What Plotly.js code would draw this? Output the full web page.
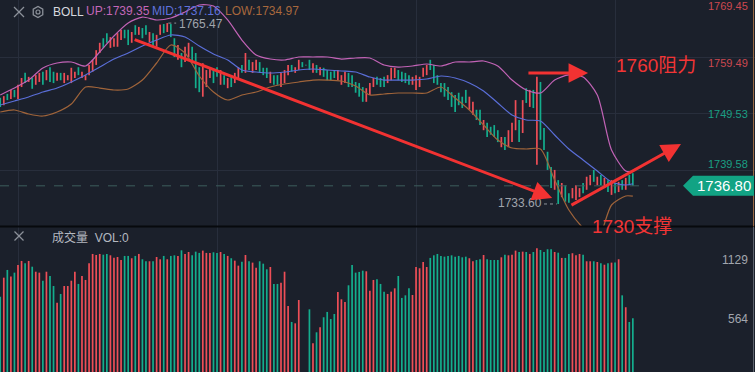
<!DOCTYPE html>
<html><head><meta charset="utf-8">
<script src="https://cdn.plot.ly/plotly-3.0.1.min.js"></script>
<style>html,body{margin:0;padding:0;background:#1b202b;}#chart{width:755px;height:372px;}</style>
</head><body><div id="chart"></div>
<script>
// ---------- DATA ----------
const openP = [1752.3,1751.0,1753.0,1752.1,1753.7,1752.1,1754.2,1756.7,1755.1,1755.8,
1754.6,1755.1,1756.9,1755.4,1757.7,1756.9,1755.3,1756.7,1754.9,1755.4,
1754.9,1755.8,1757.7,1755.8,1755.4,1756.3,1756.9,1758.1,1760.2,1762.8,
1763.7,1761.1,1761.3,1761.3,1762.5,1764.3,1764.3,1762.0,1765.1,1763.4,
1764.6,1765.1,1762.1,1763.7,1761.3,1763.4,1765.3,1763.9,1765.3,1762.8,
1759.0,1760.2,1758.6,1759.5,1761.3,1760.2,1757.7,1752.5,1754.2,1755.8,
1757.2,1757.7,1754.6,1756.3,1754.0,1756.0,1754.9,1755.8,1758.1,1756.7,
1759.0,1756.7,1757.2,1758.6,1757.6,1757.6,1754.9,1756.3,1756.3,1754.2,
1754.9,1756.3,1758.1,1756.7,1757.2,1758.6,1758.1,1759.0,1756.7,1758.1,
1756.3,1757.6,1757.2,1756.9,1757.2,1755.4,1754.6,1754.9,1756.7,1756.3,
1755.1,1754.9,1754.2,1751.6,1752.8,1754.2,1756.0,1755.8,1756.0,1754.9,
1755.4,1755.8,1757.2,1756.9,1756.7,1756.3,1754.6,1753.7,1754.2,1756.0,
1756.3,1759.0,1758.1,1756.3,1754.9,1754.9,1754.2,1753.3,1752.8,1753.2,
1752.5,1753.7,1750.2,1749.3,1750.2,1750.2,1746.6,1747.9,1747.2,1747.5,
1746.6,1743.6,1745.4,1743.6,1744.5,1746.6,1748.4,1746.1,1754.0,1750.7,
1753.7,1740.5,1755.1,1747.0,1742.8,1740.1,1736.1,1737.8,1734.8,1736.9,
1735.5,1734.6,1734.3,1734.8,1737.3,1736.1,1736.9,1739.6,1736.9,1738.7,
1736.4,1737.8,1735.2,1737.3,1735.7,1737.8,1736.1,1738.7,1739.0];
const closeP = [1750.7,1752.6,1751.9,1753.7,1752.4,1754.6,1755.8,1754.9,1756.0,1753.9,
1756.3,1756.7,1754.6,1757.2,1755.1,1754.9,1756.7,1755.4,1756.7,1756.3,
1757.6,1756.9,1756.3,1756.9,1756.3,1758.1,1759.0,1760.7,1762.0,1761.1,
1762.0,1763.0,1762.8,1763.7,1764.3,1762.8,1761.6,1763.9,1763.4,1764.8,
1762.8,1763.4,1763.9,1761.3,1763.4,1765.2,1763.7,1765.47,1763.0,1759.5,
1761.6,1757.7,1761.3,1762.0,1758.4,1754.0,1753.3,1758.4,1757.2,1757.7,
1754.9,1756.0,1757.2,1754.6,1755.8,1754.2,1756.7,1757.7,1756.7,1760.2,
1757.2,1758.6,1759.0,1756.7,1756.3,1755.8,1756.9,1754.6,1754.6,1756.7,
1757.2,1758.1,1756.9,1757.7,1759.0,1757.7,1758.0,1757.2,1758.4,1756.7,
1757.7,1756.0,1755.4,1755.4,1755.8,1757.2,1756.3,1756.9,1754.2,1754.2,
1753.2,1752.5,1751.6,1754.0,1754.9,1755.8,1754.6,1754.2,1754.2,1756.3,
1757.6,1757.6,1755.4,1755.1,1754.9,1754.6,1756.0,1756.3,1756.0,1757.6,
1758.1,1757.2,1754.9,1754.6,1753.3,1752.5,1751.9,1750.7,1749.8,1751.0,
1750.5,1751.4,1752.5,1751.6,1748.4,1747.5,1748.4,1745.4,1745.8,1745.4,
1744.5,1745.4,1743.1,1746.6,1747.9,1751.9,1744.5,1751.9,1751.4,1753.7,
1750.5,1756.0,1744.9,1743.1,1739.6,1736.4,1739.6,1733.6,1737.3,1734.0,
1733.8,1736.4,1736.9,1736.4,1735.5,1738.4,1738.7,1737.5,1738.4,1736.9,
1738.2,1735.7,1737.8,1735.5,1737.5,1736.1,1738.2,1736.9,1736.8];
const volume = [835,1017,1091,1027,1065,1139,1177,1155,1177,1122,
1074,1065,988,1074,1033,937,778,861,937,937,
988,1074,957,1033,995,1155,1244,1234,1244,1237,
1244,1231,1208,1215,1186,1225,1225,1203,1225,1244,
1193,1174,1174,1174,1215,1193,1225,1193,1225,1231,
1225,1279,1244,1263,1231,1266,1254,1276,1254,1254,
1260,1254,1263,1244,1225,1203,1180,1132,1170,1234,
1174,1161,1113,1174,1151,1097,1119,957,957,969,
1074,746,593,580,803,0,0,714,389,494,
542,638,689,621,669,880,810,784,944,1139,
1065,1072,1084,1078,892,995,1002,957,883,861,
883,915,1033,823,848,915,851,1119,1107,1167,
1119,1206,1231,1244,1225,1218,1225,1231,1218,1225,
1212,1218,1203,1174,1186,1193,1234,1193,1186,1186,
1186,1212,1237,1231,1237,1276,1263,1266,1263,1244,
1263,1299,1282,1263,1289,1289,1263,1256,1206,1206,
1244,1251,1231,1244,1237,1174,1174,1174,1167,1155,
1141,1155,1161,1161,1193,848,734,593,628];
const bandIdx = [0,4,8,12,16,20,24,28,32,36,40,44,48,52,56,60,64,68,72,76,80,84,88,92,96,100,
104,108,112,116,120,124,128,132,136,140,144,148,152,156,160,164,168,172,176,178];
const bollUp = [1752.80,1754.03,1755.44,1757.56,1758.44,1758.62,1757.91,1760.38,1763.20,1765.49,
1766.54,1766.02,1766.37,1767.43,1768.66,1768.48,1766.02,1762.49,1759.85,1759.14,
1758.97,1759.50,1759.50,1759.50,1759.14,1759.32,1759.32,1758.09,1757.73,1757.91,
1758.26,1757.91,1758.62,1758.62,1758.79,1757.91,1755.44,1753.68,1753.15,1755.44,
1756.33,1755.97,1752.80,1743.11,1739.41,1739.35];
const bollMid = [1751.04,1751.74,1752.45,1753.33,1754.03,1755.09,1756.33,1757.73,1759.14,1760.20,
1761.43,1762.49,1763.37,1763.02,1761.43,1760.03,1758.97,1757.21,1756.85,1756.68,
1756.85,1757.21,1757.38,1757.21,1757.03,1756.85,1755.97,1755.44,1755.44,1755.44,
1755.62,1756.15,1755.80,1754.92,1753.51,1751.39,1749.28,1748.40,1748.22,1745.75,
1743.29,1741.35,1739.41,1737.47,1736.94,1737.16];
const bollLow = [1749.81,1750.16,1749.45,1749.10,1749.81,1751.22,1754.21,1754.03,1753.68,1753.86,
1755.44,1758.44,1761.61,1760.20,1756.15,1753.33,1751.92,1752.80,1753.33,1754.21,
1754.74,1755.09,1755.44,1755.44,1755.27,1754.39,1752.80,1752.98,1753.15,1753.15,
1753.15,1754.21,1752.27,1750.16,1747.52,1744.87,1743.46,1743.29,1743.29,1737.82,
1732.54,1729.37,1727.25,1733.42,1735.01,1734.97];
const priceTicks = [1769.45,1759.49,1749.53,1739.58,1729.62];
const priceTickText = ['1769.45','1759.49','1749.53','1739.58','1729.62'];
const volTicks = [1129,564];
const timeGrid = [5,61,117,173];
const lastPrice = 1736.80;
const peakHigh = {idx:47, value:1765.47};
const troughLow = {idx:157, value:1733.60};
// annotation arrows: [tailIdx, tailPrice, tipIdx, tipPrice]
const arrows = [[37.4,1762.67,155.3,1734.65],[148.2,1756.68,165.4,1756.68],[160.3,1733.24,191.55,1744.17]];

// ---------- DRAW ----------
const W=755,H=372;
const PX=x=>x/W, PY=y=>1-y/H;
const RED='#ee4e57', GREEN='#14ad8d';
const idx = openP.map((_,i)=>i);
const up = idx.map(i=>closeP[i]>=openP[i]);
const col = up.map(u=>u?RED:GREEN);
const base = idx.map(i=>Math.min(openP[i],closeP[i]));
const span = idx.map(i=>Math.max(Math.abs(closeP[i]-openP[i]),0.12));

const traces = [
 {type:'bar',x:idx,y:span,base:base,width:0.48,marker:{color:col,line:{width:0}},xaxis:'x',yaxis:'y',hoverinfo:'skip'},
 {type:'scatter',mode:'lines',x:bandIdx,y:bollUp,line:{color:'#c263b6',width:1.2,shape:'spline',smoothing:0.7},xaxis:'x',yaxis:'y',hoverinfo:'skip'},
 {type:'scatter',mode:'lines',x:bandIdx,y:bollMid,line:{color:'#5a6ed8',width:1.2,shape:'spline',smoothing:0.7},xaxis:'x',yaxis:'y',hoverinfo:'skip'},
 {type:'scatter',mode:'lines',x:bandIdx,y:bollLow,line:{color:'#a0643a',width:1.2,shape:'spline',smoothing:0.7},xaxis:'x',yaxis:'y',hoverinfo:'skip'},
 {type:'bar',x:idx,y:volume,width:0.48,marker:{color:col,line:{width:0}},xaxis:'x2',yaxis:'y2',hoverinfo:'skip'}
];

const grid='#282e3c';
const xr=[-0.065,212.37];
const font="'Liberation Sans', Arial, 'Noto Sans CJK SC', sans-serif";
const shapes=[];
const ann=[];

// separator & borders
shapes.push({type:'line',xref:'paper',yref:'paper',x0:0,x1:1,y0:PY(226.5),y1:PY(226.5),line:{color:'#07090d',width:2}});
shapes.push({type:'line',xref:'paper',yref:'paper',x0:PX(753.5),x1:PX(753.5),y0:PY(226.5),y1:1,line:{color:'#9a6a45',width:1}});
shapes.push({type:'line',xref:'paper',yref:'paper',x0:PX(753.5),x1:PX(753.5),y0:0,y1:PY(227),line:{color:'#5d636d',width:1}});
// last price dashed line
shapes.push({type:'line',xref:'paper',yref:'y',x0:0,x1:PX(683),y0:lastPrice,y1:lastPrice,line:{color:'#3d5d5c',width:1,dash:'dash'}});
// last price tag
const dy = 10*0.1762;
shapes.push({type:'path',xref:'paper',yref:'y',fillcolor:'#12a384',line:{width:0},
 path:`M ${PX(683)},${lastPrice} L ${PX(693)},${lastPrice+dy} L ${PX(754)},${lastPrice+dy} L ${PX(754)},${lastPrice-dy} L ${PX(693)},${lastPrice-dy} Z`});
ann.push({xref:'paper',yref:'y',x:PX(723.5),y:lastPrice,text:lastPrice.toFixed(2),showarrow:false,xanchor:'center',yanchor:'middle',font:{family:font,size:15,color:'#ffffff'}});

// price tick labels
const yShifts=[-5.5,-6,-0.5,6,6.6];
priceTicks.forEach((v,k)=>{
 ann.push({xref:'paper',yref:'y',x:PX(750),y:v,yshift:yShifts[k],text:priceTickText[k],showarrow:false,xanchor:'right',yanchor:'middle',
  font:{family:font,size:11,color:k<2?'#cc4850':'#1a9f84'}});
});
// volume tick labels
volTicks.forEach(v=>{
 ann.push({xref:'paper',yref:'y2',x:PX(750),y:v,yshift:6,text:String(v),showarrow:false,xanchor:'right',yanchor:'middle',font:{family:font,size:12,color:'#a2a6ae'}});
});

// header icons
function cross(cx,cy,r,c){
 shapes.push({type:'line',xref:'paper',yref:'paper',x0:PX(cx-r),x1:PX(cx+r),y0:PY(cy-r),y1:PY(cy+r),line:{color:c,width:1.3}});
 shapes.push({type:'line',xref:'paper',yref:'paper',x0:PX(cx-r),x1:PX(cx+r),y0:PY(cy+r),y1:PY(cy-r),line:{color:c,width:1.3}});
}
cross(19,12,5,'#8c919a');
cross(19,236,4.5,'#8c919a');
let hp='';
for(let k=0;k<6;k++){const a=Math.PI/6+k*Math.PI/3;hp+=(k?'L ':'M ')+PX(38+5.5*Math.cos(a))+','+PY(12+5.5*Math.sin(a))+' ';}
shapes.push({type:'path',xref:'paper',yref:'paper',path:hp+'Z',line:{color:'#8c919a',width:1.3}});
shapes.push({type:'circle',xref:'paper',yref:'paper',x0:PX(36),x1:PX(40),y0:PY(14),y1:PY(10),line:{color:'#8c919a',width:1.2}});

const hdr=(x,y,t,c)=>ann.push({xref:'paper',yref:'paper',x:PX(x),y:PY(y),text:t,showarrow:false,xanchor:'left',yanchor:'middle',font:{family:font,size:12,color:c}});
hdr(51,12,'BOLL','#d6d9df');
hdr(84,11.5,'UP:1739.35','#c467b9');
hdr(150,11.5,'MID:1737.16','#5f72dc');
hdr(223,11.5,'LOW:1734.97','#a8683d');
hdr(50,237,'成交量  VOL:0','#b4b8c0');

// high / low markers
shapes.push({type:'line',xref:'x',yref:'y',x0:peakHigh.idx+0.3,x1:peakHigh.idx+2.5,y0:peakHigh.value,y1:peakHigh.value,line:{color:'#8f949c',width:1,dash:'dot'}});
ann.push({xref:'x',yref:'y',x:peakHigh.idx+2.6,y:peakHigh.value,text:peakHigh.value.toFixed(2),showarrow:false,xanchor:'left',yanchor:'middle',yshift:-0.5,font:{family:font,size:12,color:'#a0a5ad'}});
shapes.push({type:'line',xref:'x',yref:'y',x0:troughLow.idx-4,x1:troughLow.idx-0.4,y0:troughLow.value,y1:troughLow.value,line:{color:'#8f949c',width:1,dash:'dot'}});
ann.push({xref:'x',yref:'y',x:troughLow.idx-4.1,y:troughLow.value,text:troughLow.value.toFixed(2),showarrow:false,xanchor:'right',yanchor:'middle',yshift:1,font:{family:font,size:12,color:'#a0a5ad'}});

// red arrows
arrows.forEach(a=>{
 ann.push({xref:'x',yref:'y',axref:'x',ayref:'y',x:a[2],y:a[3],ax:a[0],ay:a[1],text:'',showarrow:true,arrowhead:2,arrowsize:1.3,arrowwidth:3,arrowcolor:'#f23232',standoff:0});
});
// red texts
ann.push({xref:'paper',yref:'paper',x:PX(656),y:PY(65),text:'1760阻力',showarrow:false,xanchor:'center',yanchor:'middle',font:{family:font,size:19,color:'#f23535'}});
ann.push({xref:'paper',yref:'paper',x:PX(632),y:PY(226),text:'1730支撑',showarrow:false,xanchor:'center',yanchor:'middle',font:{family:font,size:19,color:'#f23535'}});

const layout={
 width:W,height:H,margin:{l:0,r:0,t:0,b:0},paper_bgcolor:'#1b202b',plot_bgcolor:'#1b202b',
 showlegend:false,barmode:'overlay',dragmode:false,
 xaxis:{domain:[0,1],range:xr,anchor:'y',tickvals:timeGrid,showticklabels:false,showgrid:true,gridcolor:grid,gridwidth:1,zeroline:false,showline:false,ticks:''},
 xaxis2:{domain:[0,1],range:xr,anchor:'y2',tickvals:timeGrid,showticklabels:false,showgrid:true,gridcolor:grid,gridwidth:1,zeroline:false,showline:false,ticks:''},
 yaxis:{domain:[PY(226),1],range:[1729.72,1769.54],tickvals:priceTicks,showticklabels:false,showgrid:true,gridcolor:grid,zeroline:false,ticks:''},
 yaxis2:{domain:[0,PY(227)],range:[114,1502],showticklabels:false,showgrid:false,zeroline:false,ticks:''},
 shapes:shapes,annotations:ann
};
Plotly.newPlot('chart',traces,layout,{staticPlot:true,displayModeBar:false});
</script></body></html>
